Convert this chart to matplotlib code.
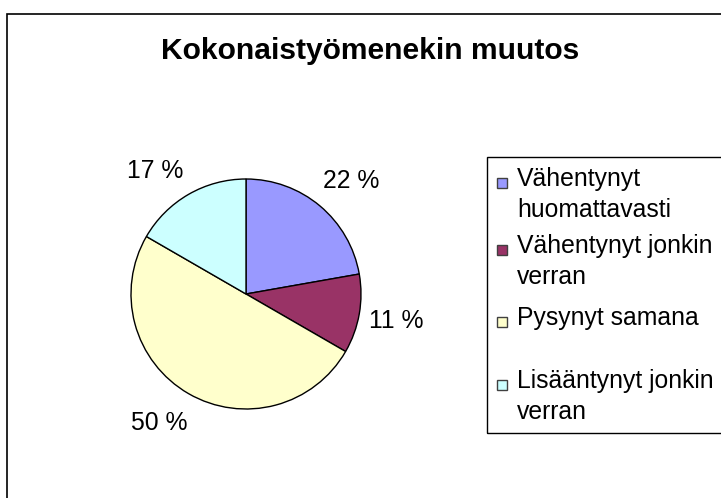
import matplotlib
matplotlib.use("Agg")
import matplotlib.pyplot as plt
from matplotlib.patches import Rectangle

plt.rcParams["font.family"] = ["Liberation Sans", "DejaVu Sans"]

title = "Kokonaistyömenekin muutos"
categories = [
    "Vähentynyt\nhuomattavasti",
    "Vähentynyt jonkin\nverran",
    "Pysynyt samana",
    "Lisääntynyt jonkin\nverran",
]
counts = [4, 2, 9, 3]
colors = ["#9999FF", "#993366", "#FFFFCC", "#CCFFFF"]

W, H = 721, 498


def py(y):
    # pixel row (from top) -> data y (from bottom)
    return H - y


fig = plt.figure(figsize=(W / 100, H / 100), dpi=100)
ax = fig.add_axes([0, 0, 1, 1])

wedges, texts, autotexts = ax.pie(
    counts,
    colors=colors,
    startangle=90,
    counterclock=False,
    center=(246, py(294)),
    radius=115,
    wedgeprops=dict(edgecolor="black", linewidth=1),
    autopct="%.0f %%",
    pctdistance=1.34,
    textprops=dict(fontsize=17.8, color="black"),
)
# Excel-style label nudges (pixels)
nudges = [(6, -5), (-2, 0), (-10, 4), (-14, -10)]
for t, (dx, dy) in zip(autotexts, nudges):
    x, y = t.get_position()
    t.set_position((x + dx, y + dy))

ax.set_xlim(0, W)
ax.set_ylim(0, H)
ax.set_aspect("equal")
ax.axis("off")

# outer chart frame (runs off the right and bottom edges)
ax.add_patch(Rectangle((7, -20), W + 20, py(14) + 20, fill=False,
                       edgecolor="black", linewidth=1.2, clip_on=False))

ax.text(370, py(51), title, ha="center", va="center",
        fontsize=21.6, fontweight="bold")

# legend box
ax.add_patch(Rectangle((487, py(433)), W, 433 - 157, fill=False,
                       edgecolor="black", linewidth=1, clip_on=False))
row_tops = [167, 234, 306, 369]
for lab, col, top in zip(categories, colors, row_tops):
    ax.add_patch(Rectangle((497, py(top + 21)), 10, 10, facecolor=col,
                           edgecolor="#404040", linewidth=1))
    ax.text(517, py(top), lab, ha="left", va="top", fontsize=17.8,
            linespacing=1.36)

fig.savefig("out.png", dpi=100)
plt.close(fig)
